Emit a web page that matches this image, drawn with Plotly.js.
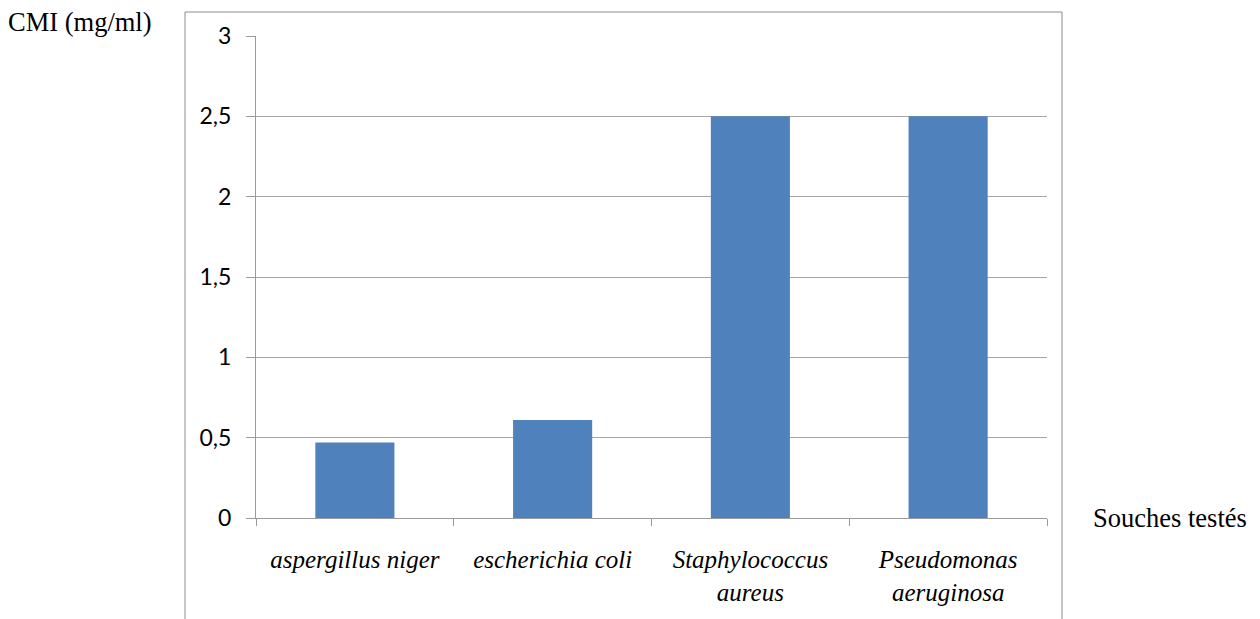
<!DOCTYPE html>
<html>
<head>
<meta charset="utf-8">
<script src="https://cdn.plot.ly/plotly-3.0.1.min.js"></script>
<style>html,body{margin:0;padding:0;background:#fff;}#chart{width:1260px;height:619px;}</style>
</head>
<body>
<div id="chart"></div>
<script>
const categories = ["aspergillus niger", "escherichia coli", "Staphylococcus<br>aureus", "Pseudomonas<br>aeruginosa"];
const cmiValues = [0.47, 0.61, 2.5, 2.5];
const yTicks = [0, 0.5, 1, 1.5, 2, 2.5, 3];
const yAxisLabel = "CMI (mg/ml)";
const xAxisLabel = "Souches testés";

const trace = {
  type: "bar",
  x: categories,
  y: cmiValues,
  marker: {color: "#4F81BD", line: {color: "#4F81BD", width: 0}},
  hoverinfo: "x+y"
};

const layout = {
  width: 1260, height: 619,
  margin: {l: 256, r: 213, t: 36, b: 101},
  paper_bgcolor: "#ffffff", plot_bgcolor: "#ffffff",
  separators: ", ",
  bargap: 0.6,
  showlegend: false,
  xaxis: {
    type: "category",
    showgrid: false,
    showline: true, linecolor: "#9a9a9a", linewidth: 1,
    ticks: "outside", tickson: "boundaries", ticklen: 7, tickcolor: "#9a9a9a",
    ticklabelstandoff: 19,
    tickfont: {family: "Liberation Serif, Times New Roman, serif", size: 25, color: "#000", style: "italic"},
    zeroline: false, fixedrange: true
  },
  yaxis: {
    range: [0, 3],
    tickvals: yTicks,
    showgrid: true, gridcolor: "#a6a6a6", gridwidth: 1,
    showline: true, linecolor: "#9a9a9a", linewidth: 1,
    ticks: "outside", ticklen: 9, tickcolor: "#9a9a9a",
    ticklabelstandoff: 10,
    tickfont: {family: "Lato, Open Sans, sans-serif", size: 23, color: "#000"},
    zeroline: false, fixedrange: true
  },
  shapes: [{
    type: "rect", xref: "paper", yref: "paper",
    x0: (185 - 256) / 791, x1: (1062 - 256) / 791,
    y0: -0.25, y1: (518 - 12) / 482,
    line: {color: "#8c8c8c", width: 1}, fillcolor: "rgba(0,0,0,0)", layer: "below"
  }],
  annotations: [
    {text: yAxisLabel, xref: "paper", yref: "paper", x: (6 - 256) / 791, y: (518 - 22) / 482,
     xanchor: "left", yanchor: "middle", showarrow: false,
     font: {family: "Liberation Serif, Times New Roman, serif", size: 26.5, color: "#000"}},
    {text: xAxisLabel, xref: "paper", yref: "paper", x: (1091 - 256) / 791, y: 0,
     xanchor: "left", yanchor: "middle", showarrow: false,
     font: {family: "Liberation Serif, Times New Roman, serif", size: 26.5, color: "#000"}}
  ]
};

Plotly.newPlot("chart", [trace], layout, {displayModeBar: false, staticPlot: true});
</script>
</body>
</html>
